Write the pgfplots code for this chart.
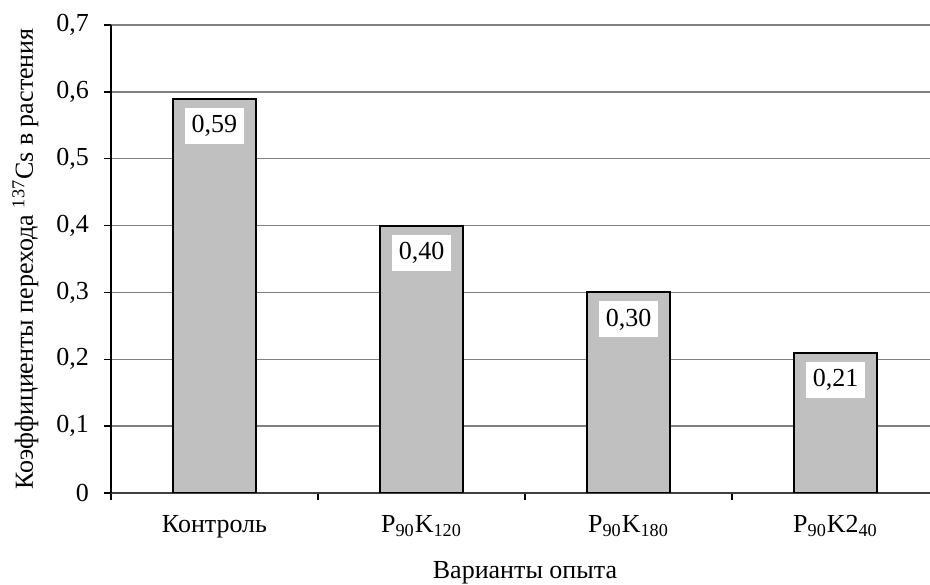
\documentclass[border=0pt]{standalone}
\usepackage{fontspec}
\setmainfont{Liberation Serif}
\usepackage{pgfplots}
\pgfplotsset{compat=1.18}

\definecolor{barfill}{RGB}{192,192,192}
\definecolor{gridgray}{RGB}{128,128,128}

\begin{document}
\fontsize{13bp}{15.6bp}\selectfont
\begin{tikzpicture}
\begin{axis}[
  scale only axis,
  width=409.5bp, height=234bp,
  xmin=-0.5, xmax=3.4565,
  ymin=0, ymax=0.7,
  axis x line=bottom, axis y line=left,
  axis line style={-, line width=0.8bp},
  x axis line style={black!75},
  tick align=outside,
  major tick length=3.5bp,
  tick style={black, line width=0.7bp},
  /pgf/number format/use comma,
  /pgf/number format/assume math mode=true,
  ytick={0,0.1,0.2,0.3,0.4,0.5,0.6,0.7},
  yticklabel style={/pgf/number format/fixed, /pgf/number format/precision=1,
    anchor=east, xshift=-3bp},
  ymajorgrids,
  grid style={gridgray, line width=0.65bp},
  xtick={-0.5,0.5,1.5,2.5},
  xticklabels={},
  extra x ticks={0,1,2,3},
  extra x tick labels={Контроль, P\textsubscript{90}K\textsubscript{120},
    P\textsubscript{90}K\textsubscript{180}, P\textsubscript{90}K2\textsubscript{40}},
  extra x tick style={major tick length=0pt},
  xticklabel style={anchor=base, yshift=-20bp},
  xlabel={Варианты опыта},
  xlabel style={at={(axis description cs:0.5055,0)}, anchor=base, yshift=-43bp},
  ylabel={Коэффициенты перехода \textsuperscript{137}Cs в растения},
  ylabel style={at={(axis description cs:-0.09524,0.5)}, rotate=0, anchor=base},
  ybar, bar width=41.5bp, bar shift=0pt,
  nodes near coords={\pgfmathprintnumber[fixed, fixed zerofill, precision=2, use comma, assume math mode=true]{\pgfplotspointmeta}},
  nodes near coords style={anchor=center, yshift=-13.5bp, fill=white,
    inner xsep=3.6bp, inner ysep=0pt, minimum height=18bp},
]
\addplot [fill=barfill, draw=black, line width=1bp]
coordinates {(0,0.59) (1,0.40) (2,0.30) (3,0.21)};
\coordinate (bl) at (rel axis cs:0,0);
\coordinate (tr) at (rel axis cs:1,1);
\end{axis}
\pgfresetboundingbox
\path ([xshift=-55.5bp,yshift=-46bp]bl) rectangle ([yshift=12.5bp]tr);
\end{tikzpicture}
\end{document}
